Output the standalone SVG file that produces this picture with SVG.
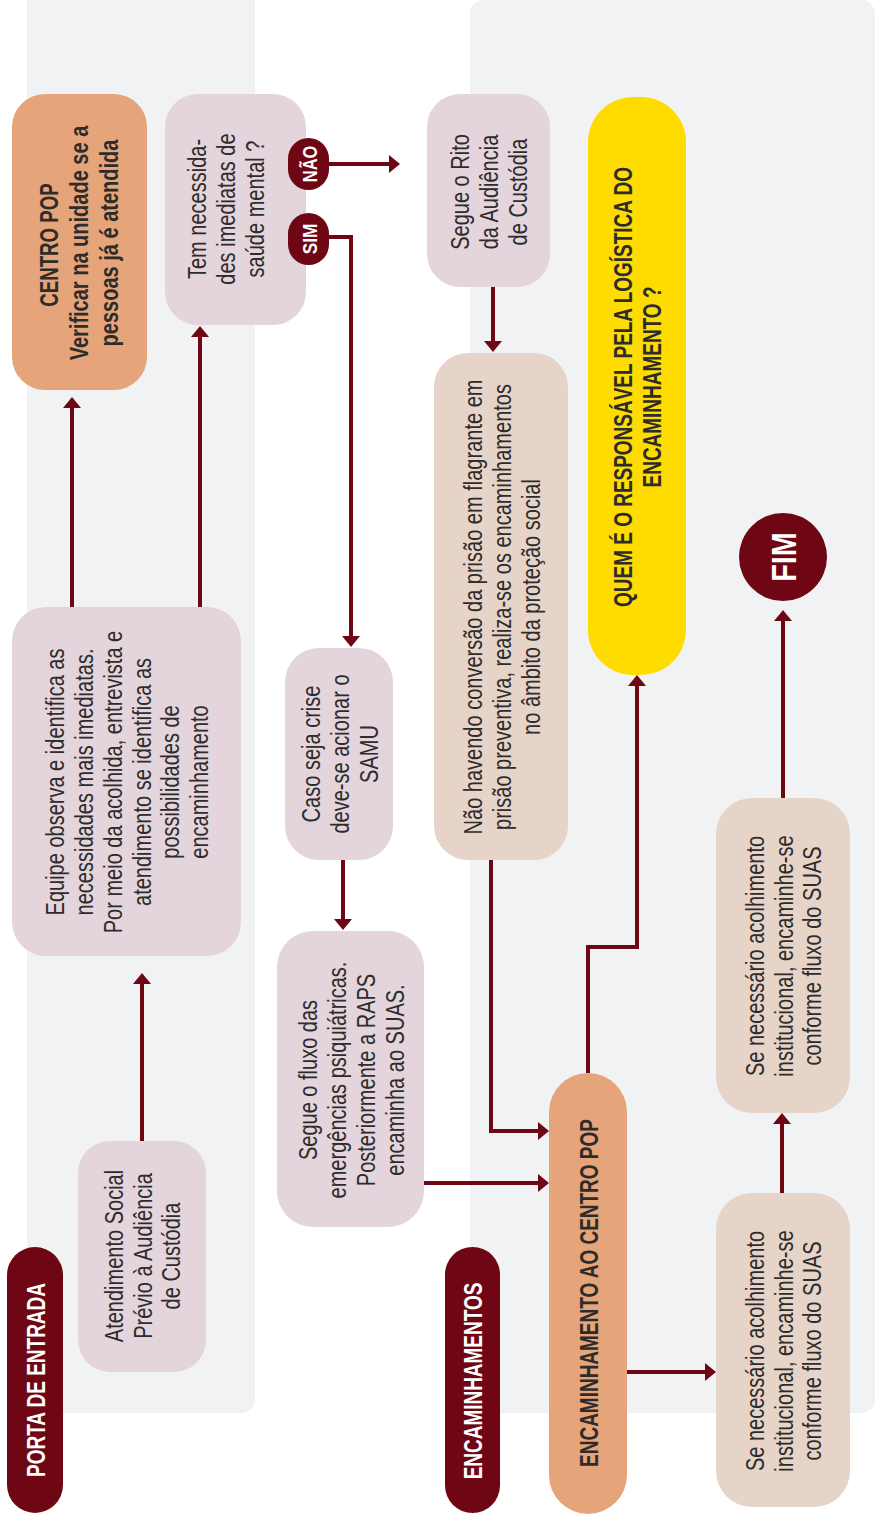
<svg xmlns="http://www.w3.org/2000/svg" width="875" height="1521" viewBox="0 0 875 1521">
<defs>
<marker id="ah" viewBox="0 0 11 18" refX="1" refY="9" markerWidth="11" markerHeight="18" markerUnits="userSpaceOnUse" orient="auto">
<path d="M0,0 L11,9 L0,18 z" fill="#6E0713"/>
</marker>
<style>
.panel{fill:#F1F2F4}
.pink{fill:#E4D4DC}
.beige{fill:#E6D4C9}
.orange{fill:#E5A479}
.yellow{fill:#FEDC00}
.dark{fill:#6E0713}
.t{font-family:"Liberation Sans",Arial,sans-serif;font-size:26px;fill:#2D2C2B;text-anchor:middle}
.b{font-weight:bold}
.w{fill:#FFFFFF;font-weight:bold}
.conn path{fill:none;stroke:#6E0713;stroke-width:4;stroke-linejoin:miter;stroke-linecap:butt;marker-end:url(#ah)}
</style>
</defs>
<rect width="875" height="1521" fill="#FFFFFF"/>
<g id="panels">
<rect class="panel" x="27" y="-20" width="228" height="1433" rx="14"/>
<rect class="panel" x="470" y="0" width="405" height="1413" rx="14"/>
</g>
<g class="conn" id="connectors">
<path d="M142,1141 V983"/>
<path d="M72,607 V407"/>
<path d="M200,607 V336"/>
<path d="M329,164 H390"/>
<path d="M329,237 H351 V637"/>
<path d="M493,287 V342"/>
<path d="M343,860 V920"/>
<path d="M491,860 V1131 H539"/>
<path d="M424,1183 H539"/>
<path d="M588,1073 V947 H637 V685"/>
<path d="M627,1372 H706"/>
<path d="M782,1193 V1123"/>
<path d="M783,798 V620"/>
</g>
<g id="porta-de-entrada">
<rect class="dark" x="7" y="1247" width="56" height="266" rx="28"/>
<text class="t w" transform="translate(35,1380) rotate(-90) scale(0.73,1)" y="10">PORTA DE ENTRADA</text>
</g>
<g id="encaminhamentos-label">
<rect class="dark" x="445" y="1247" width="55" height="266" rx="27.5"/>
<text class="t w" transform="translate(472.5,1381) rotate(-90) scale(0.73,1)" y="9.5">ENCAMINHAMENTOS</text>
</g>
<g id="atendimento">
<rect class="pink" x="78" y="1141" width="128" height="231" rx="32"/>
<text class="t" transform="translate(142,1256) rotate(-90) scale(0.77,1)"><tspan x="0" y="-19.5">Atendimento Social</tspan><tspan x="0" y="9.5">Prévio à Audiência</tspan><tspan x="0" y="38.5">de Custódia</tspan></text>
</g>
<g id="equipe">
<rect class="pink" x="12" y="607" width="229" height="349" rx="34"/>
<text class="t" transform="translate(127,782) rotate(-90) scale(0.77,1)"><tspan x="0" y="-63.5">Equipe observa e identifica as</tspan><tspan x="0" y="-34.5">necessidades mais imediatas.</tspan><tspan x="0" y="-5.5">Por meio da acolhida, entrevista e</tspan><tspan x="0" y="23.5">atendimento se identifica as</tspan><tspan x="0" y="52.5">possibilidades de</tspan><tspan x="0" y="81.5">encaminhamento</tspan></text>
</g>
<g id="centro-pop">
<rect class="orange" x="12" y="94" width="135" height="296" rx="33"/>
<text class="t b" transform="translate(80,245) rotate(-90) scale(0.72,1)" y="-22">CENTRO POP</text>
<text class="t b" transform="translate(80,243) rotate(-90) scale(0.77,1)"><tspan x="0" y="8">Verificar na unidade se a</tspan><tspan x="0" y="38">pessoas já é atendida</tspan></text>
</g>
<g id="saude-mental">
<rect class="pink" x="165" y="94" width="141" height="231" rx="33"/>
<text class="t" transform="translate(236,209) rotate(-90) scale(0.77,1)"><tspan x="0" y="-30">Tem necessida-</tspan><tspan x="0" y="-1">des imediatas de</tspan><tspan x="0" y="28">saúde mental ?</tspan></text>
</g>
<g id="nao">
<rect class="dark" x="288" y="138" width="41" height="52" rx="20.5"/>
<text class="t w" style="font-size:21px" transform="translate(309,164) rotate(-90) scale(0.78,1)" y="7.5">NÃO</text>
</g>
<g id="sim">
<rect class="dark" x="288" y="213" width="41" height="52" rx="20.5"/>
<text class="t w" style="font-size:21px" transform="translate(309,239) rotate(-90) scale(0.82,1)" y="7.5">SIM</text>
</g>
<g id="rito">
<rect class="pink" x="427" y="94" width="123" height="193" rx="33"/>
<text class="t" transform="translate(489,192) rotate(-90) scale(0.77,1)"><tspan x="0" y="-20">Segue o Rito</tspan><tspan x="0" y="9">da Audiência</tspan><tspan x="0" y="38">de Custódia</tspan></text>
</g>
<g id="caso-crise">
<rect class="pink" x="285" y="648" width="108" height="212" rx="34"/>
<text class="t" transform="translate(339,754) rotate(-90) scale(0.77,1)"><tspan x="0" y="-19">Caso seja crise</tspan><tspan x="0" y="10">deve-se acionar o</tspan><tspan x="0" y="39">SAMU</tspan></text>
</g>
<g id="fluxo-emergencias">
<rect class="pink" x="277" y="931" width="147" height="296" rx="36"/>
<text class="t" transform="translate(350.5,1080) rotate(-90) scale(0.77,1)"><tspan x="0" y="-33.5">Segue o fluxo das</tspan><tspan x="0" y="-4.5">emergências psiquiátricas.</tspan><tspan x="0" y="24.5">Posteriormente a RAPS</tspan><tspan x="0" y="53.5">encaminha ao SUAS.</tspan></text>
</g>
<g id="nao-havendo">
<rect class="beige" x="434" y="353" width="134" height="507" rx="34"/>
<text class="t" transform="translate(501,607) rotate(-90) scale(0.77,1)"><tspan x="0" y="-19">Não havendo conversão da prisão em flagrante em</tspan><tspan x="0" y="10">prisão preventiva, realiza-se os encaminhamentos</tspan><tspan x="0" y="39">no âmbito da proteção social</tspan></text>
</g>
<g id="responsavel">
<rect class="yellow" x="588" y="97" width="98" height="578" rx="45"/>
<text class="t b" transform="translate(637,387) rotate(-90) scale(0.73,1)"><tspan x="0" y="-5">QUEM É O RESPONSÁVEL PELA LOGÍSTICA DO</tspan><tspan x="0" y="24">ENCAMINHAMENTO ?</tspan></text>
</g>
<g id="encaminhamento-centro-pop">
<rect class="orange" x="549" y="1073" width="78" height="441" rx="39"/>
<text class="t b" transform="translate(588,1293) rotate(-90) scale(0.73,1)" y="9.5">ENCAMINHAMENTO AO CENTRO POP</text>
</g>
<g id="acolhimento-1">
<rect class="beige" x="716" y="1193" width="134" height="314" rx="36"/>
<text class="t" transform="translate(783,1351) rotate(-90) scale(0.77,1)"><tspan x="0" y="-19.5">Se necessário acolhimento</tspan><tspan x="0" y="9.5">institucional, encaminhe-se</tspan><tspan x="0" y="38.5">conforme fluxo do SUAS</tspan></text>
</g>
<g id="acolhimento-2">
<rect class="beige" x="716" y="798" width="134" height="315" rx="36"/>
<text class="t" transform="translate(783,956) rotate(-90) scale(0.77,1)"><tspan x="0" y="-19.5">Se necessário acolhimento</tspan><tspan x="0" y="9.5">institucional, encaminhe-se</tspan><tspan x="0" y="38.5">conforme fluxo do SUAS</tspan></text>
</g>
<g id="fim">
<circle class="dark" cx="783" cy="557" r="44"/>
<text class="t w" style="font-size:36px" transform="translate(783,557) rotate(-90) scale(0.8,1)" y="13">FIM</text>
</g>
</svg>
